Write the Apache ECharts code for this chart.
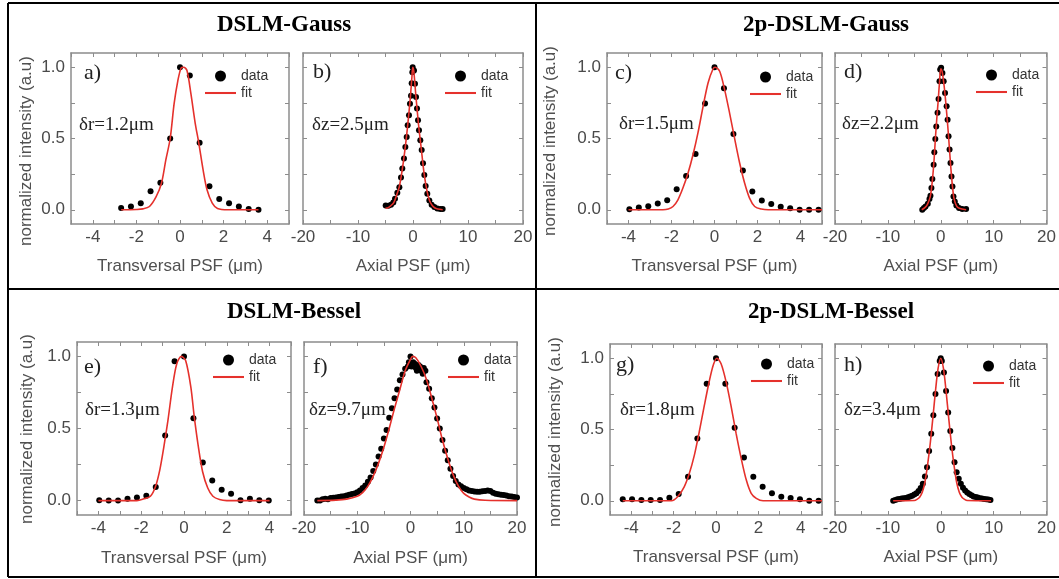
<!DOCTYPE html>
<html>
<head>
<meta charset="utf-8">
<script src="https://cdn.jsdelivr.net/npm/echarts@6/dist/echarts.min.js"></script>
<style>
  html, body { margin: 0; padding: 0; background: #fff; }
  #main { width: 1059px; height: 579px; }
</style>
</head>
<body>
<div id="main"></div>
<script>
// ---- tick values / labels ----
var transTicks = [-5, -4, -3, -2, -1, 0, 1, 2, 3, 4, 5]
var transLabels = [-4, -2, 0, 2, 4]
var axialTicks = [-20, -15, -10, -5, 0, 5, 10, 15, 20]
var axialLabels = [-20, -10, 0, 10, 20]
var yTicks = [0, 0.25, 0.5, 0.75, 1]
var yLabels = [0, 0.5, 1]

// ---- a) DSLM-Gauss transversal ----
var aDataX = [-2.7, -2.25, -1.8, -1.35, -0.9, -0.45, 0, 0.45, 0.9, 1.35, 1.8, 2.25, 2.7, 3.15, 3.6]
var aDataY = [0.012, 0.023, 0.045, 0.13, 0.19, 0.5, 1.0, 0.942, 0.47, 0.165, 0.075, 0.045, 0.023, 0.005, 0.0]
var aFitX = [-2.7, -2.0, -1.7, -1.4, -1.1, -0.85, -0.65, -0.45, -0.27, -0.1, 0.05, 0.17, 0.32, 0.5, 0.7, 0.86, 1.06, 1.24, 1.48, 1.72, 2.2, 3.6]
var aFitY = [0, 0.002, 0.006, 0.023, 0.09, 0.186, 0.35, 0.5, 0.745, 0.905, 0.995, 1.0, 0.977, 0.815, 0.605, 0.47, 0.28, 0.14, 0.047, 0.009, 0, 0]

// ---- b) DSLM-Gauss axial ----
var bDataX = [-4.97, -4.48, -4.0, -3.58, -3.27, -2.85, -2.48, -2.18, -1.94, -1.64, -1.39, -1.15, -0.97, -0.73, -0.55, -0.36, -0.24, -0.12, -0.06, 0.18, 0.36, 0.55, 0.73, 0.91, 1.09, 1.33, 1.58, 1.82, 2.06, 2.3, 2.6, 2.97, 3.39, 3.88, 4.42, 4.97, 5.39]
var bDataY = [0.03, 0.028, 0.035, 0.051, 0.077, 0.12, 0.158, 0.226, 0.29, 0.36, 0.44, 0.51, 0.593, 0.663, 0.744, 0.8, 0.888, 0.965, 1.0, 0.977, 0.884, 0.791, 0.71, 0.628, 0.558, 0.488, 0.419, 0.326, 0.244, 0.167, 0.112, 0.065, 0.035, 0.019, 0.009, 0.005, 0.005]
var bFitX = [-5, -4.5, -4, -3.5, -3, -2.5, -2, -1.5, -1, -0.5, -0.2, -0.05, 0.15, 0.5, 1, 1.5, 2, 2.5, 3, 3.5, 4, 4.5, 5.4]
var bFitY = [0.01, 0.015, 0.03, 0.05, 0.1, 0.16, 0.27, 0.41, 0.58, 0.78, 0.93, 1.0, 0.97, 0.81, 0.6, 0.43, 0.26, 0.14, 0.065, 0.03, 0.012, 0.005, 0.0]

// ---- c) 2p-DSLM-Gauss transversal ----
var cDataX = [-3.96, -3.52, -3.08, -2.64, -2.2, -1.76, -1.32, -0.88, -0.44, 0, 0.44, 0.88, 1.32, 1.76, 2.2, 2.64, 3.08, 3.52, 3.96, 4.4, 4.84]
var cDataY = [0.003, 0.015, 0.025, 0.043, 0.066, 0.143, 0.237, 0.391, 0.746, 1.0, 0.853, 0.531, 0.275, 0.128, 0.065, 0.041, 0.021, 0.01, 0.0, 0.0, 0.0]
var cFitX = [-4, -2.4, -2.15, -1.93, -1.7, -1.47, -1.23, -1.0, -0.77, -0.53, -0.3, -0.07, 0.03, 0.24, 0.47, 0.7, 0.93, 1.17, 1.4, 1.63, 1.87, 2.18, 2.5, 5]
var cFitY = [0, 0, 0.005, 0.023, 0.07, 0.152, 0.258, 0.386, 0.539, 0.726, 0.89, 0.988, 1.0, 0.972, 0.843, 0.68, 0.504, 0.328, 0.188, 0.082, 0.023, 0.005, 0, 0]

// ---- d) 2p-DSLM-Gauss axial ----
var dDataX = [-3.5, -3.19, -2.88, -2.45, -2.14, -1.95, -1.77, -1.59, -1.35, -1.22, -1.03, -0.85, -0.61, -0.42, -0.24, -0.11, 0.07, 0.31, 0.55, 0.81, 1.11, 1.29, 1.47, 1.66, 1.84, 2.03, 2.21, 2.4, 2.65, 2.95, 3.45, 4.06, 4.79]
var dDataY = [0, 0.012, 0.023, 0.042, 0.075, 0.098, 0.152, 0.216, 0.316, 0.403, 0.497, 0.585, 0.68, 0.778, 0.902, 0.984, 0.996, 0.96, 0.902, 0.82, 0.726, 0.632, 0.515, 0.422, 0.328, 0.234, 0.164, 0.093, 0.058, 0.03, 0.012, 0.005, 0.005]
var dFitX = [-3.6, -3, -2.5, -2, -1.75, -1.5, -1.25, -1, -0.75, -0.5, -0.25, 0, 0.25, 0.5, 0.75, 1, 1.25, 1.5, 1.75, 2, 2.25, 2.5, 3, 3.5, 4.8]
var dFitY = [0, 0.015, 0.04, 0.09, 0.15, 0.24, 0.36, 0.51, 0.64, 0.76, 0.89, 0.99, 0.97, 0.91, 0.83, 0.73, 0.62, 0.5, 0.37, 0.25, 0.15, 0.08, 0.025, 0.01, 0]

// ---- e) DSLM-Bessel transversal ----
var eDataX = [-3.96, -3.52, -3.08, -2.64, -2.2, -1.76, -1.32, -0.88, -0.44, 0, 0.44, 0.88, 1.32, 1.76, 2.2, 2.64, 3.08, 3.52, 3.96]
var eDataY = [0.002, 0, 0, 0.012, 0.021, 0.034, 0.094, 0.452, 0.966, 1.0, 0.571, 0.264, 0.14, 0.076, 0.048, 0.002, 0.012, 0.002, 0]
var eFitX = [-4, -2.2, -1.88, -1.57, -1.33, -1.13, -0.94, -0.75, -0.54, -0.34, -0.12, 0.08, 0.32, 0.48, 0.67, 0.87, 1.11, 1.35, 1.66, 2, 4]
var eFitY = [0, 0, 0.012, 0.03, 0.098, 0.213, 0.374, 0.557, 0.787, 0.948, 1.0, 0.97, 0.787, 0.58, 0.374, 0.2, 0.087, 0.03, 0.007, 0, 0]

// ---- f) DSLM-Bessel axial ----
var fDataX = [-17.5, -17, -16.5, -16, -15.5, -15, -14.5, -14, -13.5, -13, -12.5, -12, -11.5, -11, -10.5, -10, -9.5, -9, -8.5, -8, -7.5, -7, -6.5, -6, -5.5, -5, -4.5, -4, -3.5, -3, -2.5, -2, -1.5, -1, -0.5,
  -0.3, 0, 0.2, 0.3, 0.5, 0.8, 1, 1.2, 1.5, 1.8, 2, 2.3, 2.5, 2.8, 3,
  3.5, 4, 4.5, 5, 5.5, 6, 6.5, 7, 7.5, 8, 8.5, 9, 9.5, 10, 10.5, 11, 11.5, 12, 12.5, 13, 13.5, 14, 14.5, 15, 15.5, 16, 16.5, 17, 17.5, 18, 18.5, 19, 19.5, 20]
var fDataY = [0, 0, 0.01, 0.012, 0.01, 0.018, 0.02, 0.022, 0.025, 0.028, 0.03, 0.036, 0.04, 0.045, 0.05, 0.058, 0.07, 0.088, 0.105, 0.13, 0.16, 0.205, 0.25, 0.305, 0.36, 0.43, 0.49, 0.575, 0.64, 0.71, 0.77, 0.835, 0.875, 0.915, 0.93,
  0.96, 1.0, 0.93, 0.95, 0.96, 0.95, 0.92, 0.9, 0.94, 0.93, 0.9, 0.88, 0.92, 0.9, 0.82,
  0.775, 0.71, 0.645, 0.57, 0.5, 0.42, 0.345, 0.28, 0.22, 0.17, 0.135, 0.112, 0.1, 0.088, 0.078, 0.07, 0.066, 0.063, 0.062, 0.062, 0.064, 0.066, 0.07, 0.066, 0.055, 0.048, 0.044, 0.04, 0.038, 0.035, 0.03, 0.028, 0.025, 0.022]
var fFitX = [-17.5, -14, -12, -10, -9, -8, -7, -6, -5, -4, -3, -2, -1, 0, 0.4, 1, 2, 3, 4, 5, 6, 7, 8, 9, 10, 11, 12, 14, 20]
var fFitY = [0, 0.003, 0.01, 0.03, 0.055, 0.1, 0.17, 0.26, 0.37, 0.5, 0.64, 0.77, 0.9, 0.98, 1.0, 0.99, 0.93, 0.84, 0.71, 0.57, 0.42, 0.29, 0.18, 0.1, 0.05, 0.025, 0.01, 0.002, 0]

// ---- g) 2p-DSLM-Bessel transversal ----
var gDataX = [-4.4, -3.96, -3.52, -3.08, -2.64, -2.2, -1.76, -1.32, -0.88, -0.44, 0, 0.44, 0.88, 1.32, 1.76, 2.2, 2.64, 3.08, 3.52, 3.96, 4.4, 4.84]
var gDataY = [0.01, 0.01, 0.005, 0.005, 0.005, 0.021, 0.047, 0.168, 0.436, 0.821, 1.0, 0.821, 0.513, 0.303, 0.168, 0.098, 0.052, 0.028, 0.019, 0.01, 0, 0]
var gFitX = [-4.4, -2.1, -1.81, -1.5, -1.26, -1.02, -0.79, -0.55, -0.31, -0.12, 0.04, 0.24, 0.48, 0.72, 0.95, 1.19, 1.43, 1.66, 1.9, 2.22, 5]
var gFitY = [0, 0, 0.028, 0.098, 0.191, 0.32, 0.483, 0.669, 0.844, 0.956, 1.0, 0.961, 0.832, 0.657, 0.471, 0.296, 0.145, 0.052, 0.017, 0, 0]

// ---- h) 2p-DSLM-Bessel axial ----
var hDataX = [-9, -8.6, -8.2, -7.8, -7.4, -7, -6.6, -6.2, -5.8, -5.4, -5, -4.6, -4.2, -3.8, -3.4, -3, -2.6, -2.2, -1.8, -1.4, -1, -0.6, -0.2, 0, 0.2, 0.6, 1, 1.4, 1.8, 2.2, 2.6, 3, 3.4, 3.8, 4.2, 4.6, 5, 5.4, 5.8, 6.2, 6.6, 7, 7.4, 7.8, 8.2, 8.6, 9, 9.4]
var hDataY = [0, 0.005, 0.01, 0.012, 0.015, 0.018, 0.02, 0.025, 0.03, 0.035, 0.043, 0.052, 0.068, 0.09, 0.12, 0.17, 0.235, 0.35, 0.47, 0.6, 0.75, 0.89, 0.98, 1.0, 0.98, 0.9, 0.77, 0.62, 0.49, 0.37, 0.27, 0.2, 0.155, 0.12, 0.092, 0.072, 0.058, 0.047, 0.038, 0.03, 0.026, 0.022, 0.018, 0.015, 0.012, 0.01, 0.008, 0.005]
var hFitX = [-9, -5, -4.5, -4, -3.5, -3, -2.5, -2, -1.5, -1, -0.5, 0, 0.5, 1, 1.5, 2, 2.5, 3, 3.5, 4, 4.5, 5, 9.5]
var hFitY = [0, 0.002, 0.01, 0.025, 0.06, 0.13, 0.25, 0.4, 0.58, 0.77, 0.93, 1.0, 0.93, 0.77, 0.58, 0.4, 0.25, 0.13, 0.06, 0.025, 0.01, 0.002, 0]

var SANS = 'Liberation Sans, Arial, sans-serif'
var SERIF = 'Liberation Serif, Times New Roman, serif'
var AXIS_GRAY = '#8c8c8c'
var RED = '#e5312c'

// layout of the eight panels
var panels = [
  {grid: [71, 53, 218, 171], kind: 'trans', dx: aDataX, dy: aDataY, fx: aFitX, fy: aFitY, letter: 'a)', lp: [84, 73], delta: 'δr=1.2μm', dp: [79, 125], lg: [205, 69], gap: 34},
  {grid: [303, 53, 220, 171], kind: 'axial', dx: bDataX, dy: bDataY, fx: bFitX, fy: bFitY, letter: 'b)', lp: [313, 72], delta: 'δz=2.5μm', dp: [312, 125], lg: [445, 69], gap: 34},
  {grid: [607, 53, 215, 171], kind: 'trans', dx: cDataX, dy: cDataY, fx: cFitX, fy: cFitY, letter: 'c)', lp: [615, 73], delta: 'δr=1.5μm', dp: [619, 124], lg: [750, 70], gap: 34},
  {grid: [835, 53, 217, 171], kind: 'axial', dx: dDataX, dy: dDataY, fx: dFitX, fy: dFitY, letter: 'd)', lp: [844, 72], delta: 'δz=2.2μm', dp: [842, 124], lg: [976, 68], gap: 34},
  {grid: [77, 342, 214, 173], kind: 'trans', dx: eDataX, dy: eDataY, fx: eFitX, fy: eFitY, letter: 'e)', lp: [84, 367], delta: 'δr=1.3μm', dp: [85, 410], lg: [213, 353], gap: 35},
  {grid: [304, 342, 213, 173], kind: 'axial', dx: fDataX, dy: fDataY, fx: fFitX, fy: fFitY, letter: 'f)', lp: [313, 367], delta: 'δz=9.7μm', dp: [309, 410], lg: [448, 353], gap: 35},
  {grid: [610, 344, 212, 171], kind: 'trans', dx: gDataX, dy: gDataY, fx: gFitX, fy: gFitY, letter: 'g)', lp: [616, 365], delta: 'δr=1.8μm', dp: [620, 410], lg: [751, 357], gap: 34},
  {grid: [835, 344, 212, 171], kind: 'axial', dx: hDataX, dy: hDataY, fx: hFitX, fy: hFitY, letter: 'h)', lp: [844, 365], delta: 'δz=3.4μm', dp: [844, 410], lg: [973, 359], gap: 34}
]

var grids = [], xAxes = [], yAxes = [], series = [], legends = [], graphics = []

function zip(xs, ys) {
  return xs.map(function (x, k) { return [x, ys[k]] })
}

panels.forEach(function (p, i) {
  var trans = p.kind === 'trans'
  grids.push({left: p.grid[0], top: p.grid[1], width: p.grid[2], height: p.grid[3]})

  var lineStyle = {color: AXIS_GRAY, width: 1.5}
  var tickStyle = {color: AXIS_GRAY, width: 1}
  var xBase = {
    type: 'value', gridIndex: i,
    min: trans ? -5 : -20, max: trans ? 5 : 20,
    splitLine: {show: false},
    axisLine: {show: true, onZero: false, lineStyle: lineStyle},
    axisTick: {show: true, inside: true, length: 4, customValues: trans ? transTicks : axialTicks, lineStyle: tickStyle}
  }
  xAxes.push(Object.assign({}, xBase, {
    position: 'bottom',
    axisLabel: {customValues: trans ? transLabels : axialLabels, margin: 5, color: '#4a4a4a', fontSize: 17, fontFamily: SANS},
    name: trans ? 'Transversal PSF (μm)' : 'Axial PSF (μm)',
    nameLocation: 'middle', nameGap: p.gap,
    nameTextStyle: {color: '#505050', fontSize: 17, fontFamily: SANS}
  }))
  xAxes.push(Object.assign({}, xBase, {position: 'top', axisLabel: {show: false}}))

  var yBase = {
    type: 'value', gridIndex: i, min: -0.1, max: 1.1,
    splitLine: {show: false},
    axisLine: {show: true, onZero: false, lineStyle: lineStyle},
    axisTick: {show: true, inside: true, length: 4, customValues: yTicks, lineStyle: tickStyle}
  }
  // only the transversal (left) panels carry y tick labels
  yAxes.push(Object.assign({}, yBase, {
    position: 'left',
    axisLabel: {show: trans, customValues: yLabels, margin: 6, color: '#4a4a4a', fontSize: 17, fontFamily: SANS,
      formatter: function (v) { return Number(v).toFixed(1) }}
  }))
  yAxes.push(Object.assign({}, yBase, {position: 'right', axisLabel: {show: false}}))

  series.push({
    type: 'scatter', name: 'data', xAxisIndex: 2 * i, yAxisIndex: 2 * i,
    data: zip(p.dx, p.dy), symbolSize: 6,
    itemStyle: {color: '#000', opacity: 1}, z: 3
  })
  series.push({
    type: 'line', name: 'fit', xAxisIndex: 2 * i, yAxisIndex: 2 * i,
    data: zip(p.fx, p.fy), smooth: 0.3, symbol: 'none',
    lineStyle: {color: RED, width: 1.6}, itemStyle: {color: RED}, z: 4
  })

  legends.push({
    orient: 'vertical', left: p.lg[0], top: p.lg[1], padding: 0,
    itemWidth: 31, itemHeight: 11, itemGap: 3, selectedMode: false,
    textStyle: {fontSize: 14, color: '#333', fontFamily: SANS},
    data: [
      {name: 'data', icon: 'circle', itemStyle: {color: '#000', opacity: 1}},
      {name: 'fit', icon: 'path://M0,0L30,0L30,2L0,2Z', itemStyle: {borderWidth: 0}}
    ]
  })

  graphics.push({type: 'text', x: p.lp[0], y: p.lp[1], z: 10,
    style: {text: p.letter, font: '22px ' + SERIF, fill: '#222', align: 'left', verticalAlign: 'middle'}})
  graphics.push({type: 'text', x: p.dp[0], y: p.dp[1], z: 10,
    style: {text: p.delta, font: '19px ' + SERIF, fill: '#222', align: 'left', verticalAlign: 'middle'}})
})

// frame lines
var frame = [
  [8, 3, 1059, 3], [8, 3, 8, 577], [536, 3, 536, 577], [8, 289, 1059, 289], [8, 577, 1059, 577]
]
frame.forEach(function (l) {
  graphics.push({type: 'line', shape: {x1: l[0], y1: l[1], x2: l[2], y2: l[3]}, style: {stroke: '#000', lineWidth: 2}, z: 20})
})

// block titles
var titles = [
  ['DSLM-Gauss', 284, 25], ['2p-DSLM-Gauss', 826, 25],
  ['DSLM-Bessel', 294, 312], ['2p-DSLM-Bessel', 831, 312]
]
titles.forEach(function (t) {
  graphics.push({type: 'text', x: t[1], y: t[2], z: 10,
    style: {text: t[0], font: 'bold 23px ' + SERIF, fill: '#000', align: 'center', verticalAlign: 'middle'}})
})

// y axis names
var yNames = [[26, 151], [550, 141], [27.5, 429], [555, 432]]
yNames.forEach(function (n) {
  graphics.push({type: 'text', x: n[0], y: n[1], rotation: Math.PI / 2, z: 10,
    style: {text: 'normalized intensity (a.u)', font: '17px ' + SANS, fill: '#505050', align: 'center', verticalAlign: 'middle'}})
})

var chart = echarts.init(document.getElementById('main'), null, {renderer: 'canvas'})
chart.setOption({
  animation: false,
  backgroundColor: '#fff',
  textStyle: {fontFamily: SANS},
  grid: grids,
  xAxis: xAxes,
  yAxis: yAxes,
  legend: legends,
  series: series,
  graphic: graphics
})
</script>
</body>
</html>
